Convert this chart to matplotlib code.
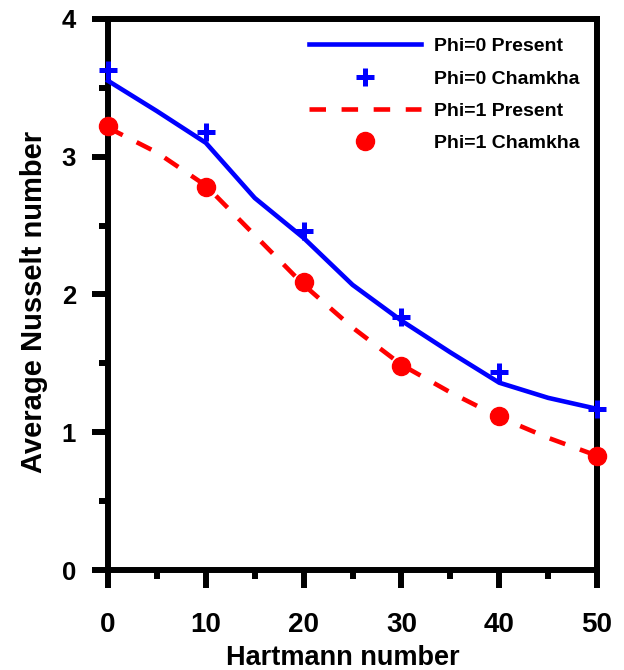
import matplotlib.pyplot as plt
from matplotlib.ticker import MultipleLocator

plt.rcParams['font.family'] = ['Liberation Sans', 'DejaVu Sans']
plt.rcParams['font.weight'] = 'bold'

# Present results (lines)
ha_line = [0, 5, 10, 15, 20, 25, 30, 35, 40, 45, 50]
nu_phi0_present = [3.55, 3.33, 3.10, 2.70, 2.41, 2.07, 1.81, 1.58, 1.36, 1.25, 1.17]
nu_phi1_present = [3.21, 3.03, 2.79, 2.43, 2.07, 1.76, 1.49, 1.29, 1.11, 0.96, 0.83]

# Chamkha results (markers)
ha_pts = [0, 10, 20, 30, 40, 50]
nu_phi0_chamkha = [3.63, 3.18, 2.46, 1.84, 1.44, 1.17]
nu_phi1_chamkha = [3.22, 2.78, 2.09, 1.48, 1.12, 0.83]

fig = plt.figure(figsize=(6.24, 6.70), dpi=100)
ax = fig.add_axes([0.1731, 0.149, 0.7837, 0.823])

ax.plot(ha_line, nu_phi0_present, color='#0000ff', lw=3.3, label='Phi=0 Present', clip_on=False, zorder=3)
ax.plot(ha_pts, nu_phi0_chamkha, ls='none', marker='+', ms=13, mew=3.6, color='#0000ff',
        label='Phi=0 Chamkha', clip_on=False, zorder=4)
ax.plot(ha_line, nu_phi1_present, color='#ff0000', lw=3.3, ls=(0, (3.6, 3.4)), label='Phi=1 Present',
        clip_on=False, zorder=3)
ax.plot(ha_pts, nu_phi1_chamkha, ls='none', marker='o', ms=13, color='#ff0000',
        label='Phi=1 Chamkha', clip_on=False, zorder=4)

ax.set_xlim(0, 50)
ax.set_ylim(0, 4)
ax.xaxis.set_major_locator(MultipleLocator(10))
ax.xaxis.set_minor_locator(MultipleLocator(5))
ax.yaxis.set_major_locator(MultipleLocator(1))
ax.yaxis.set_minor_locator(MultipleLocator(0.5))

for s in ax.spines.values():
    s.set_linewidth(4.3)
ax.tick_params(which='both', direction='out', width=4.3, top=False, right=False)
ax.tick_params(axis='x', which='major', length=13, labelsize=20, pad=17)
ax.tick_params(axis='y', which='major', length=11.5, labelsize=18.5, pad=11.5)
ax.tick_params(which='minor', length=6.5)

ax.set_xlabel('Hartmann number', fontsize=19.5, fontweight='bold')
ax.xaxis.set_label_coords(0.48, -0.136)
ax.set_ylabel('Average Nusselt number', fontsize=21, fontweight='bold')
ax.yaxis.set_label_coords(-0.122, 0.487)

leg = ax.legend(loc='upper left', frameon=False, fontsize=14, handlelength=5.8,
                labelspacing=0.76, handletextpad=0.67, borderpad=0, borderaxespad=0,
                bbox_to_anchor=(0.410, 0.966))

fig.savefig('out.png', dpi=100)
